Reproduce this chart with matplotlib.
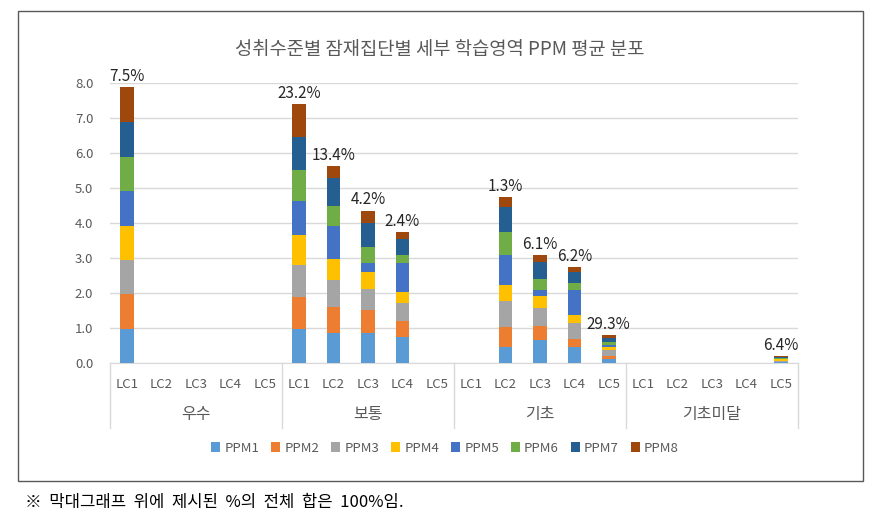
import matplotlib
matplotlib.use("Agg")
import matplotlib.pyplot as plt
import matplotlib.transforms as mtransforms
from matplotlib.patches import Rectangle
import numpy as np

plt.rcParams["font.family"] = ["Noto Sans CJK KR", "DejaVu Sans"]

# ---- data -------------------------------------------------------------------
groups = ["우수", "보통", "기초", "기초미달"]
lcs = ["LC1", "LC2", "LC3", "LC4", "LC5"]
series = ["PPM1", "PPM2", "PPM3", "PPM4", "PPM5", "PPM6", "PPM7", "PPM8"]

#        우수 LC1-5                 보통 LC1-5                        기초 LC1-5                       기초미달 LC1-5
ppm1 = [0.97, 0, 0, 0, 0,  0.97, 0.85, 0.85, 0.75, 0,  0, 0.47, 0.65, 0.45, 0.10,  0, 0, 0, 0, 0.02]
ppm2 = [1.00, 0, 0, 0, 0,  0.91, 0.75, 0.66, 0.46, 0,  0, 0.57, 0.42, 0.24, 0.10,  0, 0, 0, 0, 0.02]
ppm3 = [0.98, 0, 0, 0, 0,  0.92, 0.76, 0.61, 0.51, 0,  0, 0.72, 0.51, 0.44, 0.17,  0, 0, 0, 0, 0.03]
ppm4 = [0.96, 0, 0, 0, 0,  0.84, 0.61, 0.48, 0.30, 0,  0, 0.46, 0.34, 0.25, 0.09,  0, 0, 0, 0, 0.03]
ppm5 = [0.99, 0, 0, 0, 0,  0.98, 0.94, 0.25, 0.83, 0,  0, 0.87, 0.17, 0.71, 0.05,  0, 0, 0, 0, 0.02]
ppm6 = [0.99, 0, 0, 0, 0,  0.90, 0.58, 0.47, 0.24, 0,  0, 0.65, 0.31, 0.20, 0.10,  0, 0, 0, 0, 0.03]
ppm7 = [0.99, 0, 0, 0, 0,  0.92, 0.80, 0.68, 0.44, 0,  0, 0.72, 0.48, 0.32, 0.11,  0, 0, 0, 0, 0.02]
ppm8 = [0.99, 0, 0, 0, 0,  0.94, 0.33, 0.35, 0.20, 0,  0, 0.27, 0.21, 0.13, 0.07,  0, 0, 0, 0, 0.02]

pct_labels = ["7.5%", None, None, None, None,
              "23.2%", "13.4%", "4.2%", "2.4%", None,
              None, "1.3%", "6.1%", "6.2%", "29.3%",
              None, None, None, None, "6.4%"]

colors = ["#5B9BD5", "#ED7D31", "#A5A5A5", "#FFC000",
          "#4472C4", "#70AD47", "#255E91", "#9E480E"]
TXT = "#595959"
GRID = "#D9D9D9"

# ---- figure -----------------------------------------------------------------
W, H = 879, 518
fig = plt.figure(figsize=(W / 100, H / 100), dpi=100)
ax = fig.add_axes([110 / W, 1 - 363 / H, (798 - 110) / W, (363 - 82.7) / H])

data = np.array([ppm1, ppm2, ppm3, ppm4, ppm5, ppm6, ppm7, ppm8])
x = np.arange(data.shape[1])
bottom = np.zeros(data.shape[1])
for vals, name, c in zip(data, series, colors):
    ax.bar(x, vals, 0.39, bottom=bottom, color=c, label=name, zorder=3)
    bottom += vals

for xi, top, lab in zip(x, bottom, pct_labels):
    if lab:
        ax.text(xi, top + 0.06, lab, ha="center", va="bottom",
                fontsize=11, color="#262626", clip_on=False)

ax.set_xlim(-0.5, len(x) - 0.5)
ax.set_ylim(0, 8)
ax.set_yticks(np.arange(0, 8.1, 1.0))
ax.set_yticklabels([f"{v:.1f}" for v in np.arange(0, 8.1, 1.0)])
ax.yaxis.grid(True, color=GRID, lw=1, zorder=0)
ax.tick_params(axis="y", length=0, pad=12, labelsize=9.5, labelcolor=TXT)
ax.tick_params(axis="x", length=0, pad=11, labelsize=9.5, labelcolor=TXT)
ax.set_xticks(x)
ax.set_xticklabels(lcs * len(groups))
for s in ("left", "right", "top"):
    ax.spines[s].set_visible(False)
ax.spines["bottom"].set_color(GRID)

# multi-level category axis: group separators and group names
trans = mtransforms.blended_transform_factory(ax.transData, ax.transAxes)
yb = (363 - 428) / (363 - 82.7)
for k in range(len(groups) + 1):
    xs = k * len(lcs) - 0.5
    ax.plot([xs, xs], [0, yb], color=GRID, lw=1, transform=trans, clip_on=False)
for k, g in enumerate(groups):
    ax.text(k * len(lcs) + 2, (363 - 415) / (363 - 82.7), g, transform=trans,
            ha="center", va="center", fontsize=11.5, color=TXT)

fig.text(0.5, 1 - 50 / H, "성취수준별 잠재집단별 세부 학습영역 PPM 평균 분포",
         ha="center", va="center", fontsize=13.5, color=TXT)

leg = fig.legend(loc="center", bbox_to_anchor=(445 / W, 1 - 448 / H), ncol=8,
                 frameon=False, fontsize=9.5, handlelength=0.7, handleheight=0.7,
                 handletextpad=0.3, columnspacing=0.9)
for t in leg.get_texts():
    t.set_color(TXT)

# outer chart frame
fig.patches.append(Rectangle((18 / W, 1 - 481 / H), (863 - 18) / W, (481 - 11) / H,
                             transform=fig.transFigure, fill=False,
                             edgecolor="#595959", lw=1))

fig.text(25 / W, 1 - 503 / H, "※  막대그래프  위에  제시된  %의  전체  합은  100%임.",
         ha="left", va="center", fontsize=12, color="#000000")

fig.savefig("out.png", dpi=100)
